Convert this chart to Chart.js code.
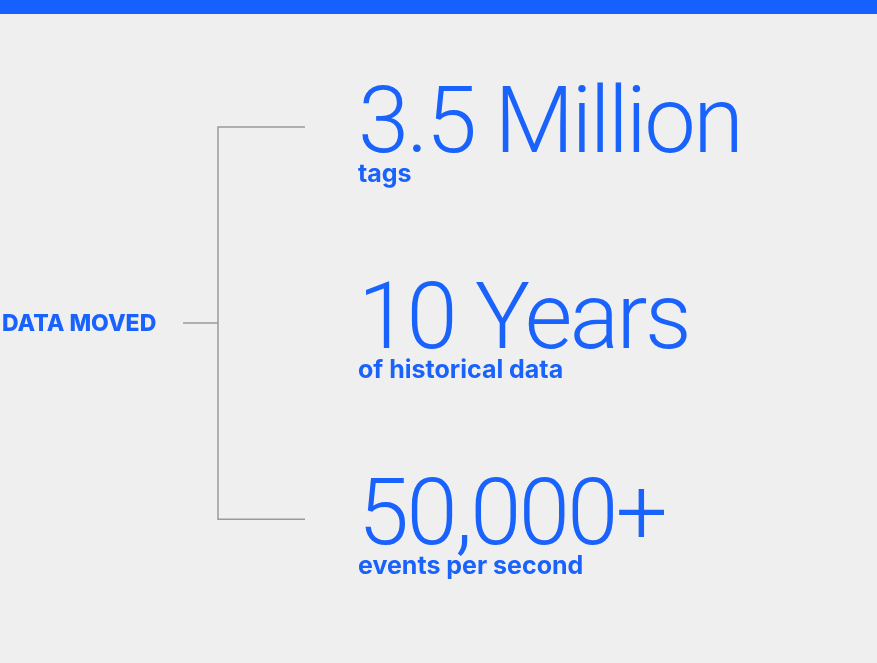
<!DOCTYPE html>
<html lang="en">
<head>
    <meta charset="UTF-8">
    <title>Data Moved</title>
    <script src="https://cdn.jsdelivr.net/npm/chart.js"></script>
    <style>
        body { margin: 0; background: #efefef; }
        #bar { height: 14px; background: #1660fd; }
        #wrap { position: relative; width: 877px; height: 649px; }
    </style>
</head>
<body>
    <div id="bar"></div>
    <div id="wrap"><canvas id="chart"></canvas></div>

    <script>
        // data
        const groupLabel = 'DATA MOVED';
        const bigValues = ['3.5 Million', '10 Years', '50,000+'];
        const subLabels = ['tags', 'of historical data', 'events per second'];

        const blue = '#1a62fc';
        const lineGrey = '#9a9a9a';

        // bracket geometry in layout units (x axis 0..877)
        const bracketX = 218, armX = 305, stubX = 183, textX = 358;
        const first = 0, last = bigValues.length - 1, mid = (first + last) / 2;

        const bracket = [
            { x: armX, y: first }, { x: bracketX, y: first },
            { x: bracketX, y: last }, { x: armX, y: last }
        ];
        const stub = [{ x: stubX, y: mid }, { x: bracketX, y: mid }];

        // draws the headline numbers + captions next to each bracket arm
        const textPlugin = {
            id: 'bigText',
            afterDraw(chart) {
                const c = chart.ctx;
                const xs = chart.scales.x, ys = chart.scales.y;
                c.save();
                c.fillStyle = blue;
                c.textAlign = 'left';
                c.textBaseline = 'alphabetic';
                bigValues.forEach((v, i) => {
                    const py = ys.getPixelForValue(i);
                    c.font = '300 92px Roboto';
                    c.letterSpacing = '-2.5px';
                    c.fillText(v, xs.getPixelForValue(textX), py + 25);
                    c.letterSpacing = '0px';
                    c.font = '700 25px Inter';
                    c.fillText(subLabels[i], xs.getPixelForValue(textX), py + 55);
                });
                c.font = '800 23px Inter';
                c.textBaseline = 'middle';
                c.fillText(groupLabel, xs.getPixelForValue(2), ys.getPixelForValue(mid) + 1);
                c.restore();
            }
        };

        new Chart(document.getElementById('chart'), {
            type: 'line',
            data: {
                datasets: [
                    { data: bracket, borderColor: lineGrey, borderWidth: 1.5, pointRadius: 0, fill: false },
                    { data: stub, borderColor: lineGrey, borderWidth: 1.5, pointRadius: 0, fill: false }
                ]
            },
            options: {
                responsive: true,
                maintainAspectRatio: false,
                animation: false,
                events: [],
                layout: { padding: 0 },
                plugins: { legend: { display: false }, tooltip: { enabled: false } },
                scales: {
                    x: { type: 'linear', min: 0, max: 877, display: false },
                    y: { type: 'linear', min: -0.577, max: 2.734, reverse: true, display: false }
                }
            },
            plugins: [textPlugin]
        });
    </script>
</body>
</html>
